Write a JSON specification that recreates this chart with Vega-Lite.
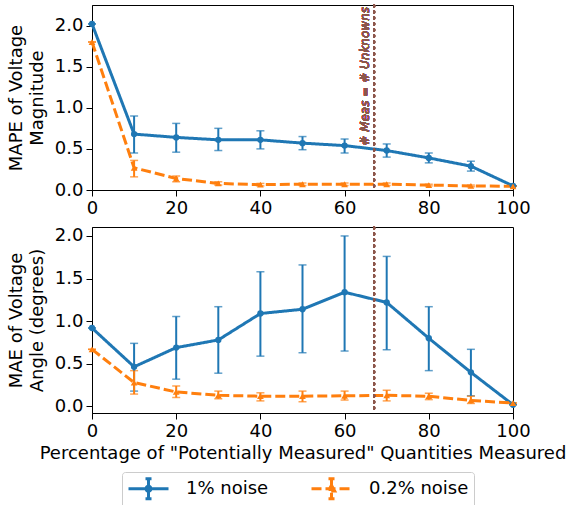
{
  "$schema": "https://vega.github.io/schema/vega-lite/v6.json",
  "padding": {"left": 6, "top": 3, "right": 4, "bottom": 2},
  "config": {
    "font": "DejaVu Sans",
    "view": {"stroke": "black", "strokeWidth": 1},
    "axis": {"grid": false, "labelFontSize": 18, "titleFontSize": 18, "titleFontWeight": "normal", "labelColor": "black", "titleColor": "black", "domainColor": "black", "tickColor": "black", "tickSize": 6, "labelPadding": 3, "labelFont": "DejaVu Sans", "titleFont": "DejaVu Sans", "titleLineHeight": 21},
    "legend": {"labelFontSize": 18, "labelFont": "DejaVu Sans", "labelColor": "black"},
    "concat": {"spacing": 7}
  },
  "datasets": {
    "d": [
      {"panel": "mag", "series": "1% noise", "x": 0, "y": 2.02, "lo": 2.02, "hi": 2.02},
      {"panel": "mag", "series": "1% noise", "x": 10, "y": 0.68, "lo": 0.45, "hi": 0.90},
      {"panel": "mag", "series": "1% noise", "x": 20, "y": 0.64, "lo": 0.46, "hi": 0.81},
      {"panel": "mag", "series": "1% noise", "x": 30, "y": 0.61, "lo": 0.48, "hi": 0.75},
      {"panel": "mag", "series": "1% noise", "x": 40, "y": 0.61, "lo": 0.50, "hi": 0.72},
      {"panel": "mag", "series": "1% noise", "x": 50, "y": 0.57, "lo": 0.49, "hi": 0.65},
      {"panel": "mag", "series": "1% noise", "x": 60, "y": 0.54, "lo": 0.45, "hi": 0.62},
      {"panel": "mag", "series": "1% noise", "x": 70, "y": 0.48, "lo": 0.40, "hi": 0.56},
      {"panel": "mag", "series": "1% noise", "x": 80, "y": 0.39, "lo": 0.33, "hi": 0.45},
      {"panel": "mag", "series": "1% noise", "x": 90, "y": 0.29, "lo": 0.23, "hi": 0.35},
      {"panel": "mag", "series": "1% noise", "x": 100, "y": 0.05, "lo": 0.05, "hi": 0.05},
      {"panel": "mag", "series": "0.2% noise", "x": 0, "y": 1.80, "lo": 1.80, "hi": 1.80},
      {"panel": "mag", "series": "0.2% noise", "x": 10, "y": 0.27, "lo": 0.16, "hi": 0.36},
      {"panel": "mag", "series": "0.2% noise", "x": 20, "y": 0.14, "lo": 0.10, "hi": 0.17},
      {"panel": "mag", "series": "0.2% noise", "x": 30, "y": 0.08, "lo": 0.06, "hi": 0.10},
      {"panel": "mag", "series": "0.2% noise", "x": 40, "y": 0.065, "lo": 0.05, "hi": 0.08},
      {"panel": "mag", "series": "0.2% noise", "x": 50, "y": 0.07, "lo": 0.055, "hi": 0.085},
      {"panel": "mag", "series": "0.2% noise", "x": 60, "y": 0.07, "lo": 0.055, "hi": 0.085},
      {"panel": "mag", "series": "0.2% noise", "x": 70, "y": 0.07, "lo": 0.055, "hi": 0.085},
      {"panel": "mag", "series": "0.2% noise", "x": 80, "y": 0.06, "lo": 0.05, "hi": 0.07},
      {"panel": "mag", "series": "0.2% noise", "x": 90, "y": 0.05, "lo": 0.04, "hi": 0.06},
      {"panel": "mag", "series": "0.2% noise", "x": 100, "y": 0.045, "lo": 0.045, "hi": 0.045},
      {"panel": "ang", "series": "1% noise", "x": 0, "y": 0.92, "lo": 0.92, "hi": 0.92},
      {"panel": "ang", "series": "1% noise", "x": 10, "y": 0.465, "lo": 0.18, "hi": 0.74},
      {"panel": "ang", "series": "1% noise", "x": 20, "y": 0.69, "lo": 0.32, "hi": 1.055},
      {"panel": "ang", "series": "1% noise", "x": 30, "y": 0.78, "lo": 0.39, "hi": 1.17},
      {"panel": "ang", "series": "1% noise", "x": 40, "y": 1.09, "lo": 0.59, "hi": 1.58},
      {"panel": "ang", "series": "1% noise", "x": 50, "y": 1.14, "lo": 0.63, "hi": 1.66},
      {"panel": "ang", "series": "1% noise", "x": 60, "y": 1.34, "lo": 0.65, "hi": 2.0},
      {"panel": "ang", "series": "1% noise", "x": 70, "y": 1.22, "lo": 0.665, "hi": 1.76},
      {"panel": "ang", "series": "1% noise", "x": 80, "y": 0.80, "lo": 0.42, "hi": 1.17},
      {"panel": "ang", "series": "1% noise", "x": 90, "y": 0.40, "lo": 0.125, "hi": 0.67},
      {"panel": "ang", "series": "1% noise", "x": 100, "y": 0.02, "lo": 0.02, "hi": 0.02},
      {"panel": "ang", "series": "0.2% noise", "x": 0, "y": 0.67, "lo": 0.67, "hi": 0.67},
      {"panel": "ang", "series": "0.2% noise", "x": 10, "y": 0.28, "lo": 0.145, "hi": 0.42},
      {"panel": "ang", "series": "0.2% noise", "x": 20, "y": 0.17, "lo": 0.105, "hi": 0.24},
      {"panel": "ang", "series": "0.2% noise", "x": 30, "y": 0.13, "lo": 0.09, "hi": 0.18},
      {"panel": "ang", "series": "0.2% noise", "x": 40, "y": 0.12, "lo": 0.065, "hi": 0.16},
      {"panel": "ang", "series": "0.2% noise", "x": 50, "y": 0.12, "lo": 0.055, "hi": 0.18},
      {"panel": "ang", "series": "0.2% noise", "x": 60, "y": 0.125, "lo": 0.075, "hi": 0.18},
      {"panel": "ang", "series": "0.2% noise", "x": 70, "y": 0.13, "lo": 0.065, "hi": 0.19},
      {"panel": "ang", "series": "0.2% noise", "x": 80, "y": 0.12, "lo": 0.08, "hi": 0.155},
      {"panel": "ang", "series": "0.2% noise", "x": 90, "y": 0.07, "lo": 0.035, "hi": 0.12},
      {"panel": "ang", "series": "0.2% noise", "x": 100, "y": 0.04, "lo": 0.04, "hi": 0.04}
    ]
  },
  "vconcat": [
    {
      "width": 421, "height": 185,
      "data": {"name": "d"},
      "transform": [{"filter": "datum.panel === 'mag'"}],
      "encoding": {
        "x": {"field": "x", "type": "quantitative", "scale": {"domain": [0, 100]}, "axis": {"values": [0, 20, 40, 60, 80, 100], "title": null, "labelFlush": false}}
      },
      "layer": [
        {
          "mark": {"type": "line", "strokeWidth": 3},
          "encoding": {
            "y": {"field": "y", "type": "quantitative", "scale": {"domain": [0, 2.25], "nice": false}, "axis": {"values": [0, 0.5, 1, 1.5, 2], "format": ".1f", "title": ["MAPE of Voltage", "Magnitude"], "titlePadding": 8}},
            "color": {
              "field": "series", "type": "nominal",
              "scale": {"domain": ["1% noise", "0.2% noise"], "range": ["#1f77b4", "#ff7f0e"]},
              "legend": {
                "title": null, "orient": "none", "legendX": 30, "legendY": 467, "direction": "horizontal",
                "symbolSize": 400, "symbolOffset": 10, "symbolStrokeWidth": 3, "strokeColor": "#cccccc", "cornerRadius": 3, "padding": 5, "columnPadding": 36, "labelOffset": 26,
                "encode": {
                  "symbols": {
                    "update": {
                      "shape": {"signal": "datum.value === '1% noise' ? 'M-2,0H2M0,-1V1M-0.3,-1H0.3M-0.3,1H0.3M-0.25,0A0.25,0.25 0 1,0 0.25,0A0.25,0.25 0 1,0 -0.25,0Z' : 'M-2,0H2M0,-1V1M-0.3,-1H0.3M-0.3,1H0.3M0,-0.35L0.32,0.22L-0.32,0.22Z'"},
                      "fill": {"signal": "scale('color', datum.value)"},
                      "fillOpacity": {"value": 1}
                    }
                  }
                }
              }
            },
            "strokeDash": {"field": "series", "type": "nominal", "scale": {"domain": ["1% noise", "0.2% noise"], "range": [[1, 0], [10, 4]]}, "legend": null}
          }
        },
        {
          "mark": {"type": "rule", "strokeDash": [2, 4], "strokeWidth": 2, "color": "#8c564b", "strokeCap": "round"},
          "encoding": {"x": {"datum": 67}}
        },
        {
          "mark": {"type": "text", "angle": 270, "align": "right", "baseline": "bottom", "fontStyle": "italic", "fontSize": 12, "color": "#8c564b", "opacity": 0.85, "dx": -2, "dy": -2},
          "encoding": {"x": {"datum": 67}, "y": {"datum": 2.25}, "text": {"value": "# Meas = # Unknowns"}}
        },
        {
          "mark": {"type": "errorbar", "ticks": {"size": 8, "thickness": 1.5}, "thickness": 2},
          "encoding": {
            "y": {"field": "lo", "type": "quantitative", "title": ["MAPE of Voltage", "Magnitude"]},
            "y2": {"field": "hi"},
            "color": {"field": "series", "type": "nominal", "scale": {"domain": ["1% noise", "0.2% noise"], "range": ["#1f77b4", "#ff7f0e"]}, "legend": null}
          }
        },
        {
          "transform": [{"filter": "datum.series === '1% noise'"}],
          "mark": {"type": "point", "filled": true, "opacity": 1, "size": 40, "shape": "circle", "color": "#1f77b4"},
          "encoding": {"y": {"field": "y", "type": "quantitative"}}
        },
        {
          "transform": [{"filter": "datum.series === '0.2% noise'"}],
          "mark": {"type": "point", "filled": true, "opacity": 1, "size": 45, "shape": "triangle-up", "color": "#ff7f0e"},
          "encoding": {"y": {"field": "y", "type": "quantitative"}}
        }
      ]
    },
    {
      "width": 421, "height": 186,
      "data": {"name": "d"},
      "transform": [{"filter": "datum.panel === 'ang'"}],
      "encoding": {
        "x": {"field": "x", "type": "quantitative", "scale": {"domain": [0, 100]}, "axis": {"values": [0, 20, 40, 60, 80, 100], "title": "Percentage of \"Potentially Measured\" Quantities Measured", "labelFlush": false, "titlePadding": 4}}
      },
      "layer": [
        {
          "mark": {"type": "line", "strokeWidth": 3},
          "encoding": {
            "y": {"field": "y", "type": "quantitative", "scale": {"domain": [-0.077, 2.105], "nice": false, "zero": false}, "axis": {"values": [0, 0.5, 1, 1.5, 2], "format": ".1f", "title": ["MAE of Voltage", "Angle (degrees)"], "titlePadding": 8}},
            "color": {"field": "series", "type": "nominal", "scale": {"domain": ["1% noise", "0.2% noise"], "range": ["#1f77b4", "#ff7f0e"]}, "legend": null},
            "strokeDash": {"field": "series", "type": "nominal", "scale": {"domain": ["1% noise", "0.2% noise"], "range": [[1, 0], [10, 4]]}, "legend": null}
          }
        },
        {
          "mark": {"type": "rule", "strokeDash": [2, 4], "strokeWidth": 2, "color": "#8c564b", "strokeCap": "round"},
          "encoding": {"x": {"datum": 67}}
        },
        {
          "mark": {"type": "errorbar", "ticks": {"size": 8, "thickness": 1.5}, "thickness": 2},
          "encoding": {
            "y": {"field": "lo", "type": "quantitative", "title": ["MAE of Voltage", "Angle (degrees)"]},
            "y2": {"field": "hi"},
            "color": {"field": "series", "type": "nominal", "scale": {"domain": ["1% noise", "0.2% noise"], "range": ["#1f77b4", "#ff7f0e"]}, "legend": null}
          }
        },
        {
          "transform": [{"filter": "datum.series === '1% noise'"}],
          "mark": {"type": "point", "filled": true, "opacity": 1, "size": 40, "shape": "circle", "color": "#1f77b4"},
          "encoding": {"y": {"field": "y", "type": "quantitative"}}
        },
        {
          "transform": [{"filter": "datum.series === '0.2% noise'"}],
          "mark": {"type": "point", "filled": true, "opacity": 1, "size": 45, "shape": "triangle-up", "color": "#ff7f0e"},
          "encoding": {"y": {"field": "y", "type": "quantitative"}}
        }
      ]
    }
  ]
}
